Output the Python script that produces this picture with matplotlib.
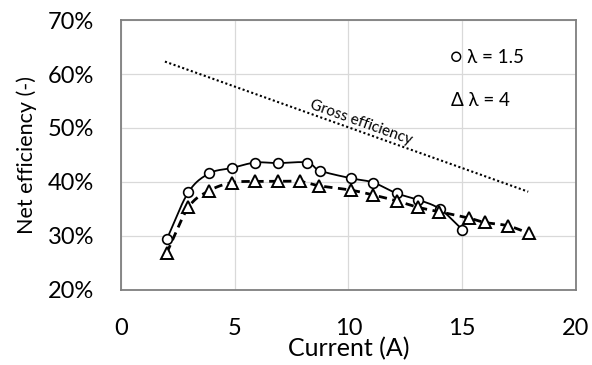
import numpy as np
import matplotlib
matplotlib.use("Agg")
import matplotlib.pyplot as plt
from matplotlib.ticker import PercentFormatter

plt.rcParams['font.family'] = ['Lato', 'DejaVu Sans']

# lambda = 1.5 (circles)
current_a = [2.02, 2.97, 3.89, 4.89, 5.90, 6.90, 8.19, 8.75, 10.1, 11.09, 12.12, 13.07, 14.02, 15.0]
eff_a = [29.4, 38.1, 41.6, 42.6, 43.6, 43.5, 43.6, 42.1, 40.7, 39.9, 37.9, 36.7, 35.0, 31.2]

# lambda = 4 (triangles)
current_b = [2.02, 2.97, 3.89, 4.89, 5.90, 6.90, 7.87, 8.72, 10.1, 11.09, 12.12, 13.07, 13.99,
             15.31, 16.0, 17.0, 17.93]
eff_b = [26.9, 35.3, 38.4, 39.9, 40.1, 40.1, 40.1, 39.3, 38.5, 37.6, 36.5, 35.3, 34.5,
         33.3, 32.5, 31.9, 30.5]

# gross efficiency (dotted)
current_g = [1.94, 17.9]
eff_g = [62.3, 38.2]


def smooth(x, y, n=20):
    # catmull-rom through the points, like excel's smoothed line
    x = np.asarray(x, float)
    y = np.asarray(y, float)
    px = np.concatenate([[2 * x[0] - x[1]], x, [2 * x[-1] - x[-2]]])
    py = np.concatenate([[2 * y[0] - y[1]], y, [2 * y[-1] - y[-2]]])
    xs, ys = [], []
    t = np.linspace(0, 1, n, endpoint=False)
    for i in range(1, len(px) - 2):
        for p, out in ((px, xs), (py, ys)):
            p0, p1, p2, p3 = p[i - 1], p[i], p[i + 1], p[i + 2]
            out.extend(0.5 * (2 * p1 + (-p0 + p2) * t + (2 * p0 - 5 * p1 + 4 * p2 - p3) * t ** 2
                              + (-p0 + 3 * p1 - 3 * p2 + p3) * t ** 3))
    xs.append(x[-1])
    ys.append(y[-1])
    return np.array(xs), np.array(ys)


fig = plt.figure(figsize=(5.92, 3.65), dpi=100)
ax = fig.add_axes([0.204, 0.2055, 0.769, 0.7397])

sx, sy = smooth(current_a, eff_a)
ax.plot(sx, sy, color='black', lw=1.3, zorder=3)
ax.plot(current_a, eff_a, ls='none', marker='o', ms=7, mfc='white', mec='black', mew=1.2, zorder=4)

sx, sy = smooth(current_b, eff_b)
ax.plot(sx, sy, color='black', lw=2.0, ls=(0, (3, 2)), zorder=3)
ax.plot(current_b, eff_b, ls='none', marker='^', ms=9, mfc='white', mec='black', mew=1.4, zorder=4)

ax.plot(current_g, eff_g, color='black', lw=1.5, ls=(0, (1, 1.2)), zorder=3)

ax.text(10.55, 51.1, 'Gross efficiency', rotation=-19.7, rotation_mode='anchor',
        ha='center', va='center', fontsize=11)
ax.text(14.45, 63.0, '\u25cb \u03bb = 1.5', ha='left', va='center', fontsize=13.5)
ax.text(14.5, 55.0, '\u0394 \u03bb = 4', ha='left', va='center', fontsize=13.5)

ax.set_xlim(0, 20)
ax.set_ylim(20, 70)
ax.set_xticks([0, 5, 10, 15, 20])
ax.set_yticks([20, 30, 40, 50, 60, 70])
ax.yaxis.set_major_formatter(PercentFormatter(decimals=0))
ax.tick_params(length=0, labelsize=17)
ax.tick_params(axis='y', pad=19)
ax.tick_params(axis='x', pad=20)
ax.grid(True, color='#d9d9d9', lw=0.9)
ax.set_axisbelow(True)
for s in ax.spines.values():
    s.set_color('#7f7f7f')
    s.set_linewidth(1.3)

ax.set_xlabel('Current (A)', fontsize=18, va='center')
ax.xaxis.set_label_coords(0.5, -0.219)
ax.set_ylabel('Net efficiency (-)', fontsize=15.5, va='center')
ax.yaxis.set_label_coords(-0.206, 0.5)

fig.savefig('out.png', dpi=100)
